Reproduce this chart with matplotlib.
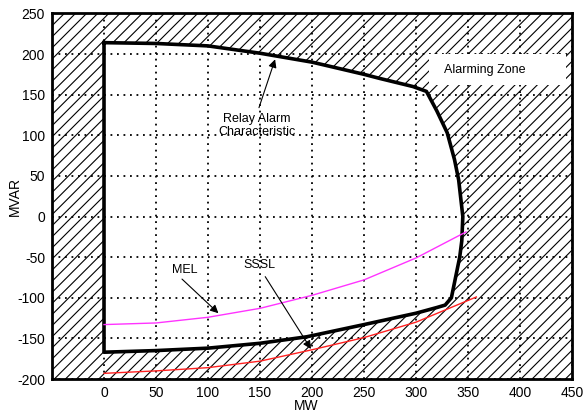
import numpy as np
import matplotlib.pyplot as plt
from matplotlib.patches import Rectangle, Polygon

plt.rcParams['font.family'] = ['Liberation Sans', 'DejaVu Sans']
plt.rcParams['axes.unicode_minus'] = False
plt.rcParams['hatch.linewidth'] = 0.8

# relay alarm characteristic (MW, MVAR), traced clockwise from the top-left corner
top_mw = [0, 50, 100, 150, 200, 250, 265, 297, 310]
top_mvar = [214, 213, 210, 201, 190, 175, 170, 160, 154]
right_mw = [320, 330, 337, 341, 345, 344, 342, 334, 328]
right_mvar = [130, 103, 70, 45, 0, -30, -50, -100, -109]
bottom_mw = [320, 300, 250, 195, 150, 100, 50, 0]
bottom_mvar = [-112, -119, -133, -148, -156, -162, -165, -167]

# minimum excitation limiter
mel_mw = [0, 50, 100, 150, 200, 250, 300, 348]
mel_mvar = [-133, -131, -124, -113, -97, -78, -51, -19]

# steady-state stability limit
sssl_mw = [0, 50, 100, 150, 200, 250, 300, 358]
sssl_mvar = [-193, -190, -186, -178, -164, -149, -130, -99]

xticks = np.arange(0, 451, 50)
yticks = np.arange(-200, 251, 50)

char_mw = top_mw + right_mw + bottom_mw
char_mvar = top_mvar + right_mvar + bottom_mvar

fig = plt.figure(figsize=(5.83, 4.15), dpi=100)
ax = fig.add_axes([0.0892, 0.0867, 0.892, 0.881])
ax.set_xlim(-50, 450)
ax.set_ylim(-200, 250)

# hatched alarming zone, then the normal region cut out in white
ax.add_patch(Rectangle((-50, -200), 500, 450, facecolor='white',
                       edgecolor='black', hatch='///', linewidth=0, zorder=0.5))
ax.add_patch(Polygon(np.column_stack([char_mw, char_mvar]), closed=True,
                     facecolor='white', edgecolor='none', zorder=0.6))

ax.set_xticks(xticks)
ax.set_yticks(yticks)
ax.set_axisbelow(False)
ax.grid(True, color='black', linestyle=(0, (1, 2.6)), linewidth=1.3)

ax.plot(char_mw + [char_mw[0]], char_mvar + [char_mvar[0]],
        color='black', linewidth=2.6, zorder=3)
ax.plot(mel_mw, mel_mvar, color='#ff33ff', linewidth=1.0, zorder=3)
ax.plot(sssl_mw, sssl_mvar, color='#ff2020', linewidth=1.0, zorder=3)

# white box behind the zone label
ax.add_patch(Rectangle((312, 162), 132, 38, facecolor='white',
                       edgecolor='none', zorder=3.5))
ax.text(366, 180, 'Alarming Zone', ha='center', va='center', fontsize=9, zorder=4)

arrow = dict(arrowstyle='-|>', color='black', linewidth=0.8,
             mutation_scale=12, shrinkA=0, shrinkB=0)
ax.text(147, 112, 'Relay Alarm\nCharacteristic', ha='center', va='center',
        fontsize=9, linespacing=1.1, zorder=4)
ax.annotate('', xy=(164.5, 193.5), xytext=(149, 134), arrowprops=arrow, zorder=4)
ax.text(78, -66, 'MEL', ha='center', va='center', fontsize=9, zorder=4)
ax.annotate('', xy=(110, -119), xytext=(75, -77), arrowprops=arrow, zorder=4)
ax.text(149, -60, 'SSSL', ha='center', va='center', fontsize=9, zorder=4)
ax.annotate('', xy=(199, -163), xytext=(155, -74), arrowprops=arrow, zorder=4)

ax.tick_params(length=0, pad=5, labelsize=10)
for s in ax.spines.values():
    s.set_linewidth(2)
    s.set_zorder(5)
ax.set_xlabel('MW', fontsize=10, va='center')
ax.set_ylabel('MVAR', fontsize=10, va='center')
ax.xaxis.set_label_coords(0.488, -0.074)
ax.yaxis.set_label_coords(-0.071, 0.5)

fig.savefig('out.png', dpi=100)
